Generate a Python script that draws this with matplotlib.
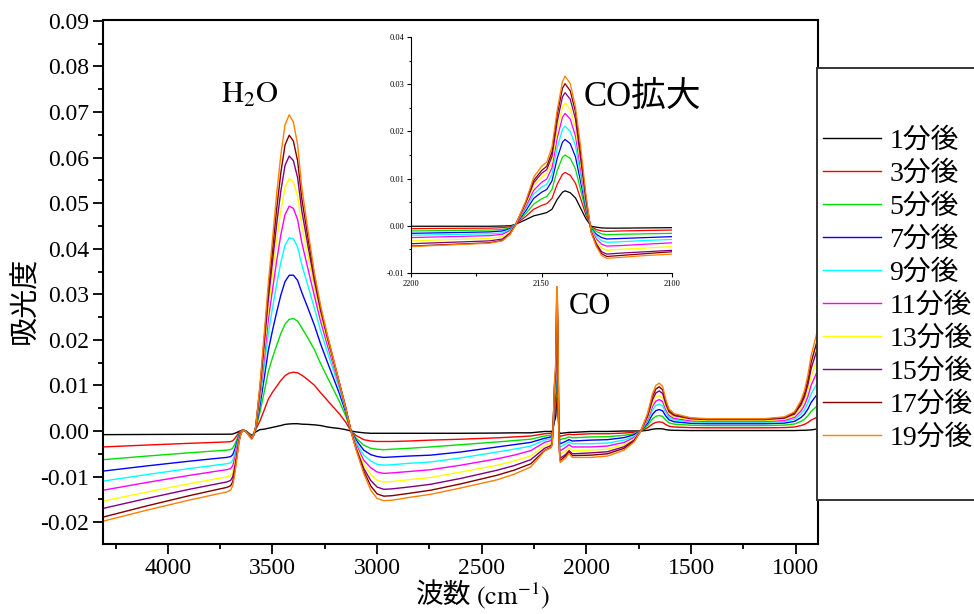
import matplotlib.pyplot as plt
import numpy as np
from matplotlib.patches import Rectangle
from matplotlib.ticker import MultipleLocator, FormatStrFormatter

plt.rcParams['font.family'] = ['Liberation Serif', 'Noto Sans CJK JP']
plt.rcParams['mathtext.fontset'] = 'stix'
plt.rcParams['axes.unicode_minus'] = False

wn = [4310, 4100, 3900, 3760, 3720,
      3700, 3690, 3680, 3670, 3660, 3650, 3640, 3625, 3610, 3600, 3590,
      3580, 3560, 3540, 3520, 3500, 3480, 3460, 3440, 3420, 3400,
      3380, 3360, 3330, 3300, 3270, 3240, 3210, 3180, 3150, 3125,
      3100, 3064, 3030, 3000, 2968, 2930, 2850, 2745, 2600, 2426, 2346, 2266,
      2200, 2170, 2165, 2162, 2160, 2156, 2153, 2150, 2148, 2146, 2144, 2142,
      2141, 2139, 2137, 2135, 2133, 2131, 2129, 2127, 2125, 2120, 2110, 2100,
      2083, 2067, 1979, 1899, 1820, 1772, 1740,
      1708, 1684, 1668, 1652, 1636, 1620, 1605, 1581, 1501, 1421,
      1300, 1150, 1054, 1006, 975, 958, 942, 926, 910, 895]

# absorbance, in units of 0.001
t01 = [-0.8, -0.76, -0.73, -0.71, -0.7,
       -0.7, -0.65, -0.5, -0.3, -0.1, 0.1, 0.2, 0.0, -0.6, -0.9, -0.7,
       -0.2, 0.3, 0.4, 0.6, 0.8, 1.0, 1.2, 1.45, 1.55, 1.6,
       1.6, 1.5, 1.45, 1.35, 1.2, 0.9, 0.7, 0.55, 0.3, 0.0,
       -0.2, -0.4, -0.5, -0.5, -0.5, -0.5, -0.5, -0.5, -0.5, -0.45, -0.4, -0.4,
       -0.1, -0.1, -0.05, 0.0, 0.3, 1.3, 2.1, 2.5, 2.8, 3.5, 5.6, 7.1,
       7.4, 7.0, 5.9, 3.7, 1.5, -0.1, -0.3, -0.45, -0.5, -0.5, -0.45, -0.4,
       -0.3, -0.3, -0.1, -0.1, 0.0, 0.0, 0.0,
       0.15, 0.4, 0.48, 0.5, 0.47, 0.3, 0.2, 0.15, 0.1, 0.1,
       0.1, 0.1, 0.1, 0.1, 0.15, 0.15, 0.2, 0.25, 0.35, 0.5]
t03 = [-3.5, -3.08, -2.71, -2.47, -2.4,
       -2.32, -2.14, -1.65, -1.0, -0.32, 0.07, 0.2, -0.1, -0.7, -1.0, -0.6,
       0.3, 2.19, 4.52, 6.97, 8.51, 9.8, 11.09, 12.13, 12.71, 12.9,
       12.77, 12.26, 11.22, 10.06, 8.39, 6.84, 5.29, 3.74, 1.94, 0.0,
       -1.0, -1.9, -2.2, -2.3, -2.3, -2.3, -2.2, -2.0, -1.8, -1.5, -1.3, -1.1,
       -0.6, -0.5, -0.4, -0.2, 0.3, 2.0, 3.5, 4.3, 4.7, 5.8, 8.8, 10.9,
       11.3, 10.7, 9.0, 5.7, 2.3, -0.2, -0.8, -1.1, -1.2, -1.1, -1.0, -0.9,
       -0.7, -0.8, -0.6, -0.6, -0.45, -0.25, 0.0,
       0.7, 1.55, 1.9, 2.0, 1.88, 1.39, 1.05, 0.88, 0.74, 0.7,
       0.7, 0.7, 0.75, 0.88, 1.19, 1.46, 1.86, 2.4, 2.76, 3.1]
t05 = [-6.3, -5.5, -4.79, -4.33, -4.2,
       -4.07, -3.76, -2.92, -1.82, -0.68, -0.02, 0.2, -0.1, -0.8, -1.2, -0.7,
       0.46, 4.08, 8.43, 13.0, 16.08, 18.79, 21.4, 23.46, 24.51, 24.68,
       24.12, 22.63, 20.34, 17.89, 14.8, 12.0, 9.24, 6.47, 3.31, 0.0,
       -1.6, -3.1, -3.8, -4.0, -4.1, -4.0, -3.8, -3.5, -3.0, -2.4, -2.1, -1.8,
       -1.1, -0.9, -0.8, -0.4, 0.3, 2.6, 4.6, 5.7, 6.2, 7.7, 11.7, 14.5,
       15.0, 14.3, 12.0, 7.5, 3.0, -0.4, -1.2, -1.7, -1.9, -1.8, -1.7, -1.6,
       -1.3, -1.5, -1.3, -1.25, -0.95, -0.55, 0.0,
       1.22, 2.65, 3.23, 3.4, 3.2, 2.37, 1.79, 1.51, 1.27, 1.2,
       1.2, 1.2, 1.29, 1.54, 2.1, 2.59, 3.33, 4.32, 4.98, 5.6]
t07 = [-8.8, -7.66, -6.64, -5.98, -5.8,
       -5.62, -5.2, -4.06, -2.56, -1.0, -0.1, 0.2, -0.15, -0.85, -1.3, -0.75,
       0.61, 5.52, 11.46, 17.65, 22.05, 26.08, 29.84, 32.8, 34.18, 34.2,
       33.05, 30.43, 26.91, 23.25, 19.1, 15.4, 11.8, 8.18, 4.15, 0.0,
       -2.0, -4.2, -5.2, -5.6, -5.8, -5.7, -5.5, -5.3, -4.6, -3.5, -3.0, -2.5,
       -1.6, -1.3, -1.1, -0.6, 0.3, 3.2, 5.8, 7.1, 7.7, 9.5, 14.3, 17.7,
       18.3, 17.4, 14.6, 9.2, 3.7, -0.6, -1.8, -2.5, -2.8, -2.7, -2.5, -2.3,
       -1.9, -2.2, -2.0, -1.9, -1.45, -0.8, 0.0,
       1.69, 3.67, 4.47, 4.7, 4.42, 3.24, 2.44, 2.03, 1.69, 1.6,
       1.6, 1.6, 1.73, 2.11, 2.95, 3.69, 4.8, 6.29, 7.28, 8.2]
t09 = [-11.0, -9.56, -8.26, -7.43, -7.2,
       -6.98, -6.46, -5.05, -3.2, -1.28, -0.17, 0.2, -0.15, -0.9, -1.4, -0.8,
       0.72, 6.67, 13.88, 21.36, 26.94, 32.2, 37.02, 40.77, 42.4, 42.18,
       40.37, 36.51, 31.79, 26.99, 22.01, 17.65, 13.45, 9.24, 4.64, 0.0,
       -2.5, -5.3, -6.6, -7.3, -7.5, -7.4, -7.1, -6.8, -5.9, -4.6, -4.0, -3.3,
       -2.0, -1.7, -1.5, -0.8, 0.3, 3.7, 6.7, 8.2, 8.8, 10.9, 16.5, 20.4,
       21.1, 20.0, 16.9, 10.6, 4.2, -0.7, -2.2, -3.2, -3.5, -3.4, -3.1, -2.9,
       -2.4, -2.8, -2.8, -2.65, -2.0, -1.15, 0.0,
       2.12, 4.6, 5.6, 5.9, 5.54, 4.02, 2.98, 2.46, 2.02, 1.9,
       1.9, 1.9, 2.08, 2.58, 3.7, 4.68, 6.17, 8.15, 9.47, 10.7]
t11 = [-13.0, -11.29, -9.76, -8.77, -8.5,
       -8.24, -7.63, -5.98, -3.8, -1.54, -0.24, 0.2, -0.2, -0.95, -1.5, -0.85,
       0.8, 7.59, 15.85, 24.37, 30.97, 37.34, 43.08, 47.53, 49.34, 48.86,
       46.4, 41.35, 35.51, 29.7, 24.05, 19.2, 14.57, 9.91, 4.93, 0.0,
       -3.0, -6.4, -8.1, -9.0, -9.3, -9.2, -8.9, -8.5, -7.5, -6.1, -5.3, -4.3,
       -2.5, -2.1, -1.8, -1.0, 0.2, 4.1, 7.5, 9.2, 9.9, 12.3, 18.5, 23.0,
       23.8, 22.6, 19.0, 11.9, 4.8, -0.9, -2.8, -3.9, -4.3, -4.2, -3.9, -3.6,
       -3.0, -3.5, -3.5, -3.3, -2.5, -1.45, 0.0,
       2.48, 5.38, 6.56, 6.9, 6.47, 4.64, 3.4, 2.77, 2.24, 2.1,
       2.1, 2.1, 2.32, 2.96, 4.38, 5.64, 7.53, 10.05, 11.73, 13.3]
t13 = [-15.4, -13.39, -11.58, -10.42, -10.1,
       -9.79, -9.07, -7.11, -4.54, -1.86, -0.32, 0.2, -0.2, -1.0, -1.6, -0.9,
       0.86, 8.36, 17.49, 26.87, 34.38, 41.79, 48.36, 53.44, 55.39, 54.63,
       51.51, 45.3, 38.41, 31.64, 25.46, 20.22, 15.27, 10.29, 5.06, 0.0,
       -3.4, -7.3, -9.6, -10.8, -11.2, -11.1, -10.7, -10.2, -9.0, -7.5, -6.6, -5.5,
       -3.2, -2.7, -2.3, -1.3, 0.2, 4.6, 8.4, 10.3, 11.1, 13.6, 20.3, 25.1,
       26.0, 24.7, 20.8, 13.0, 5.2, -1.0, -3.3, -4.7, -5.2, -5.0, -4.7, -4.4,
       -3.7, -4.3, -4.2, -4.0, -3.0, -1.7, 0.0,
       2.81, 6.08, 7.41, 7.8, 7.3, 5.22, 3.79, 3.07, 2.47, 2.3,
       2.3, 2.3, 2.57, 3.35, 5.09, 6.63, 8.94, 12.03, 14.08, 16.0]
t15 = [-17.0, -14.8, -12.82, -11.55, -11.2,
       -10.86, -10.06, -7.89, -5.04, -2.08, -0.37, 0.2, -0.2, -1.05, -1.7, -0.95,
       0.9, 8.96, 18.78, 28.85, 37.12, 45.42, 52.69, 58.3, 60.35, 59.33,
       55.61, 48.35, 40.55, 32.96, 26.37, 20.84, 15.68, 10.45, 5.1, 0.0,
       -3.8, -8.2, -10.9, -12.3, -12.8, -12.7, -12.3, -11.7, -10.4, -8.6, -7.6, -6.3,
       -3.8, -3.2, -2.8, -1.5, 0.2, 4.9, 9.1, 11.1, 11.9, 14.7, 22.0, 27.3,
       28.2, 26.8, 22.6, 14.1, 5.6, -1.2, -3.8, -5.5, -6.0, -5.8, -5.5, -5.2,
       -4.3, -5.0, -4.8, -4.55, -3.45, -2.0, 0.0,
       3.17, 6.86, 8.36, 8.8, 8.23, 5.84, 4.2, 3.38, 2.69, 2.5,
       2.5, 2.5, 2.82, 3.72, 5.72, 7.49, 10.16, 13.72, 16.09, 18.3]
t17 = [-18.9, -16.43, -14.22, -12.79, -12.4,
       -12.02, -11.14, -8.75, -5.6, -2.32, -0.43, 0.2, -0.2, -1.1, -1.7, -1.0,
       0.94, 9.5, 19.94, 30.6, 39.6, 48.74, 56.68, 62.78, 64.92, 63.62,
       59.31, 51.03, 42.35, 33.98, 27.03, 21.26, 15.93, 10.52, 5.08, 0.0,
       -4.0, -8.8, -12.1, -13.8, -14.3, -14.2, -13.7, -13.0, -11.6, -9.7, -8.6, -7.2,
       -4.3, -3.6, -3.1, -1.7, 0.1, 5.1, 9.6, 11.7, 12.6, 15.6, 23.5, 29.1,
       30.1, 28.6, 24.1, 15.1, 6.0, -1.3, -4.2, -5.9, -6.5, -6.3, -5.9, -5.5,
       -4.6, -5.4, -5.3, -5.0, -3.8, -2.2, 0.0,
       3.49, 7.57, 9.22, 9.7, 9.06, 6.36, 4.52, 3.59, 2.81, 2.6,
       2.6, 2.6, 2.95, 3.96, 6.19, 8.16, 11.14, 15.1, 17.74, 20.2]
t19 = [-19.8, -17.37, -15.19, -13.78, -13.4,
       -12.99, -12.04, -9.46, -6.06, -2.52, -0.48, 0.2, -0.2, -1.2, -1.8, -1.0,
       1.0, 10.0, 21.0, 32.3, 42.0, 52.0, 60.6, 67.2, 69.4, 67.8,
       62.9, 53.5, 43.9, 34.8, 27.5, 21.5, 16.0, 10.5, 5.0, 0.0,
       -4.2, -9.3, -13.0, -14.8, -15.3, -15.2, -14.6, -13.9, -12.5, -10.7, -9.5, -7.9,
       -4.4, -3.7, -3.2, -1.8, 0.1, 5.3, 10.3, 12.6, 13.5, 16.7, 24.5, 30.5,
       31.7, 30.1, 25.2, 16.7, 6.7, -1.4, -4.4, -6.3, -6.9, -6.7, -6.3, -6.0,
       -4.9, -5.8, -5.8, -5.5, -4.2, -2.4, 0.0,
       3.8, 8.2, 10.0, 10.5, 9.8, 6.8, 4.8, 3.8, 2.9, 2.7,
       2.7, 2.7, 3.1, 4.2, 6.7, 8.9, 12.2, 16.6, 19.5, 22.3]

labels = ['1分後', '3分後', '5分後', '7分後', '9分後',
          '11分後', '13分後', '15分後', '17分後', '19分後']
colors = ['#000000', '#ff0000', '#00e000', '#0000ff', '#00ffff',
          '#ff00ff', '#ffff00', '#800080', '#800000', '#ff8000']
series = [t01, t03, t05, t07, t09, t11, t13, t15, t17, t19]

fig = plt.figure(figsize=(9.74, 6.14), dpi=100)

# main spectrum
ax = fig.add_axes([0.1057, 0.114, 0.7338, 0.8534])
handles = []
for s, c, lab in zip(series, colors, labels):
    h, = ax.plot(wn, np.array(s) / 1000, color=c, lw=1.0, label=lab)
    handles.append(h)
ax.set_xlim(4310, 895)
ax.set_ylim(-0.0248, 0.0902)
ax.xaxis.set_major_locator(MultipleLocator(500))
ax.xaxis.set_minor_locator(MultipleLocator(250))
ax.yaxis.set_major_locator(MultipleLocator(0.01))
ax.yaxis.set_minor_locator(MultipleLocator(0.005))
ax.yaxis.set_major_formatter(FormatStrFormatter('%.2f'))
ax.tick_params(which='major', direction='out', length=7, width=1.3,
               labelsize=17, pad=3, top=False, right=False)
ax.tick_params(which='minor', direction='out', length=3.5, width=1.3,
               top=False, right=False)
for sp in ax.spines.values():
    sp.set_linewidth(1.5)

# zoom on the CO band
ins = fig.add_axes([0.422, 0.5554, 0.268, 0.3844])
for s, c in zip(series, colors):
    ins.plot(wn, np.array(s) / 1000, color=c, lw=0.9)
ins.set_xlim(2200, 2100)
ins.set_ylim(-0.01, 0.04)
ins.xaxis.set_major_locator(MultipleLocator(50))
ins.xaxis.set_minor_locator(MultipleLocator(25))
ins.yaxis.set_major_locator(MultipleLocator(0.01))
ins.yaxis.set_minor_locator(MultipleLocator(0.005))
ins.yaxis.set_major_formatter(FormatStrFormatter('%.2f'))
ins.tick_params(which='major', direction='out', length=3, width=0.8,
                labelsize=6, pad=2)
ins.tick_params(which='minor', direction='out', length=1.8, width=0.8)
ins.spines['top'].set_visible(False)
ins.spines['right'].set_visible(False)
for sp in ('left', 'bottom'):
    ins.spines[sp].set_linewidth(0.8)

# axis titles and band labels
fig.text(26 / 974, 1 - 300 / 614, '吸光度', rotation=90, ha='center',
         va='center', fontsize=21)
fig.text(471 / 974, 1 - 596 / 614, '波数', ha='right', va='center',
         fontsize=20)
fig.text(476 / 974, 1 - 596 / 614, r'$\mathrm{(cm^{-1})}$', ha='left',
         va='center', fontsize=19)
fig.text(221 / 974, 1 - 103 / 614, r'$\mathrm{H_2O}$', ha='left',
         va='baseline', fontsize=22)
fig.text(569 / 974, 1 - 314 / 614, 'CO', ha='left', va='baseline',
         fontsize=22)
fig.text(584 / 974, 1 - 106 / 614, 'CO拡大', ha='left', va='baseline',
         fontsize=25)

# legend box running off the right edge
fig.add_artist(Rectangle((816.5 / 974, 1 - 500 / 614), 0.3, 432 / 614,
                         transform=fig.transFigure, facecolor='white',
                         edgecolor='#333333', lw=1.4, zorder=3))
fig.legend(handles, labels, loc='upper left',
           bbox_to_anchor=(823 / 974, 1 - 128 / 614), frameon=False,
           prop={'family': ['Liberation Serif', 'Noto Sans CJK JP'], 'size': 20},
           handlelength=2.1, handletextpad=0.28, labelspacing=0.265,
           borderpad=0, borderaxespad=0)

fig.savefig('out.png', dpi=100)
